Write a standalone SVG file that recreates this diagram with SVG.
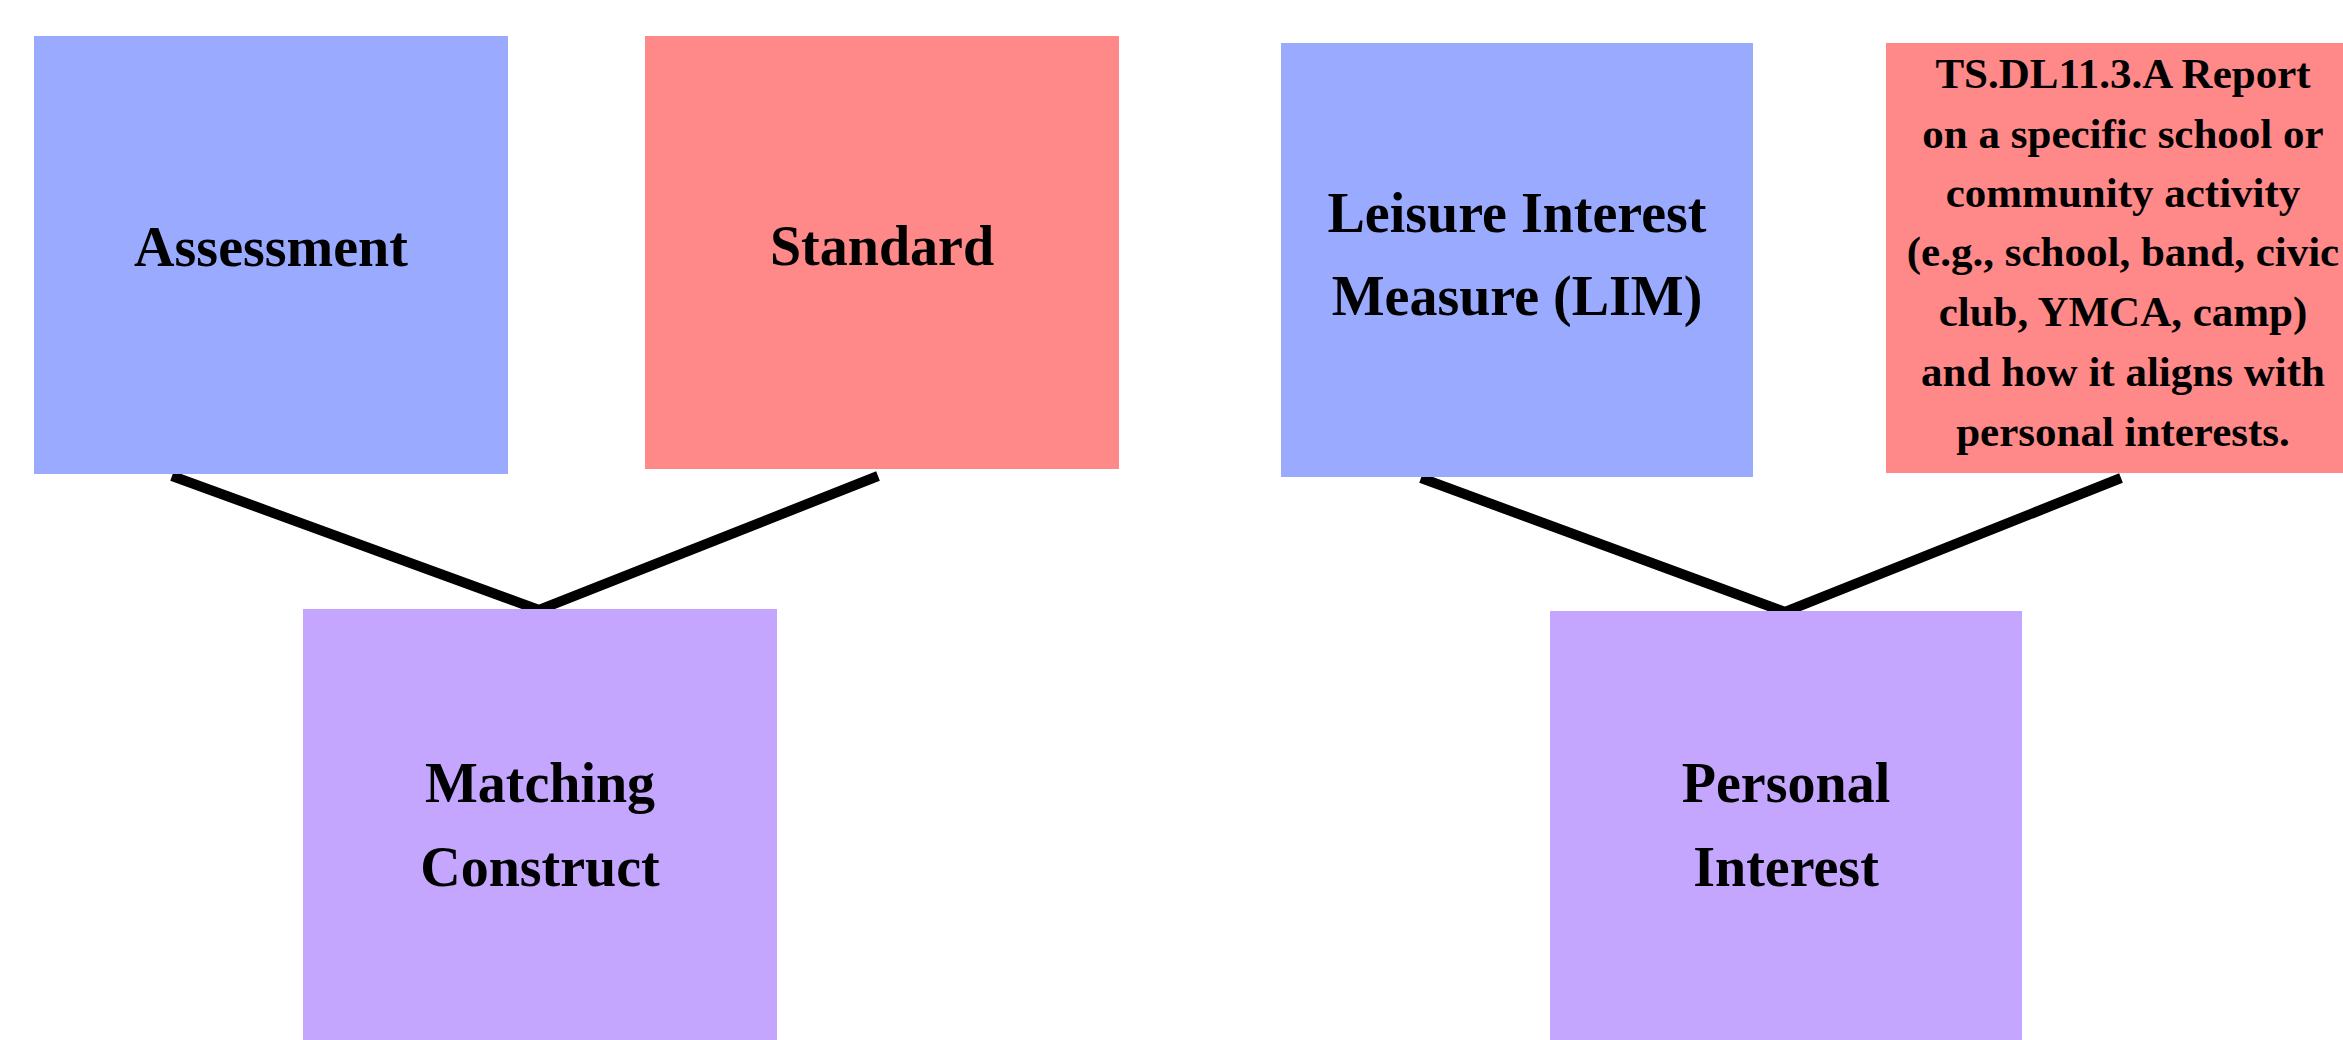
<svg xmlns="http://www.w3.org/2000/svg" width="2343" height="1040" viewBox="0 0 2343 1040">
<style>
.blue{fill:#99AAFF}
.red{fill:#FF8888}
.purple{fill:#C4A6FF}
.lbl{font-family:"Liberation Serif","Times New Roman",serif;font-weight:bold;font-size:56px;fill:#000;text-anchor:middle}
.sm{font-size:43px}
.conn{stroke:#000;stroke-width:10;fill:none;stroke-linejoin:miter}
</style>
<rect width="2343" height="1040" fill="#fff"/>
<g id="connectors">
<polyline class="conn" points="172,476 539,610 878,476"/>
<polyline class="conn" points="1421,478 1785,612 2121,478"/>
</g>
<g id="assessment">
<rect class="blue" x="34" y="36" width="474" height="438"/>
<text class="lbl" x="271" y="266">Assessment</text>
</g>
<g id="standard">
<rect class="red" x="645" y="36" width="474" height="433"/>
<text class="lbl" x="882" y="265">Standard</text>
</g>
<g id="matching">
<rect class="purple" x="303" y="609" width="474" height="440"/>
<text class="lbl" x="540" y="802">Matching</text>
<text class="lbl" x="540" y="886">Construct</text>
</g>
<g id="lim">
<rect class="blue" x="1281" y="43" width="472" height="434"/>
<text class="lbl" x="1517" y="232">Leisure Interest</text>
<text class="lbl" x="1517" y="315">Measure (LIM)</text>
</g>
<g id="report">
<rect class="red" x="1886" y="43" width="474" height="430"/>
<text class="lbl sm" x="2123" y="88">TS.DL11.3.A Report</text>
<text class="lbl sm" x="2123" y="148">on a specific school or</text>
<text class="lbl sm" x="2123" y="207">community activity</text>
<text class="lbl sm" x="2123" y="266">(e.g., school, band, civic</text>
<text class="lbl sm" x="2123" y="326">club, YMCA, camp)</text>
<text class="lbl sm" x="2123" y="386">and how it aligns with</text>
<text class="lbl sm" x="2123" y="446">personal interests.</text>
</g>
<g id="personal">
<rect class="purple" x="1550" y="611" width="472" height="440"/>
<text class="lbl" x="1786" y="802">Personal</text>
<text class="lbl" x="1786" y="886">Interest</text>
</g>
</svg>
